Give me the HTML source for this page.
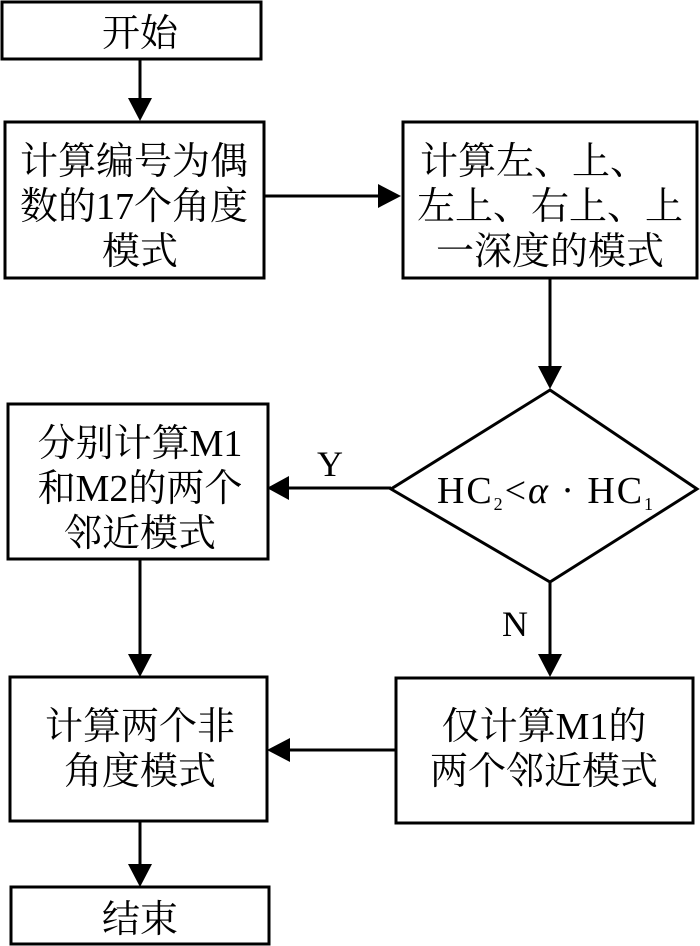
<!DOCTYPE html>
<html><head><meta charset="utf-8"><style>
html,body{margin:0;padding:0;background:#fff;}
svg{display:block;}
text{font-family:"Liberation Serif","Noto Serif CJK SC",serif;font-size:38px;fill:#000;}
</style></head><body>
<svg width="700" height="946" viewBox="0 0 700 946" xmlns="http://www.w3.org/2000/svg">
<g fill="none" stroke="#000" stroke-width="3">
<rect x="2" y="2" width="259" height="57"/>
<rect x="5" y="122" width="259" height="156"/>
<rect x="403" y="122" width="294" height="156"/>
<polygon points="550,390 697,489 550,582 391,489"/>
<rect x="8" y="404" width="260" height="155"/>
<rect x="10" y="677" width="257" height="144"/>
<rect x="396" y="678" width="297" height="145"/>
<rect x="11" y="887" width="258" height="57"/>
</g>
<g stroke="#000" stroke-width="3" fill="#000">
<line x1="140" y1="59" x2="140" y2="98"/><path d="M128,98 L152,98 L140,121z" stroke="none"/>
<line x1="264" y1="196" x2="378" y2="196"/><path d="M378,184 L378,208 L401,196z" stroke="none"/>
<line x1="550" y1="278" x2="550" y2="366"/><path d="M538,366 L562,366 L550,389z" stroke="none"/>
<line x1="391" y1="488" x2="289" y2="488"/><path d="M289,476 L289,500 L267,488z" stroke="none"/>
<line x1="550" y1="582" x2="550" y2="654"/><path d="M538,654 L562,654 L550,677z" stroke="none"/>
<line x1="140" y1="559" x2="140" y2="654"/><path d="M128,654 L152,654 L140,677z" stroke="none"/>
<line x1="396" y1="750" x2="290" y2="750"/><path d="M290,738 L290,762 L267,750z" stroke="none"/>
<line x1="140" y1="821" x2="140" y2="864"/><path d="M128,864 L152,864 L140,887z" stroke="none"/>
</g>
<g text-anchor="middle">
<text x="140" y="46">开始</text>
<text x="134" y="174">计算编号为偶</text>
<text x="134" y="219">数的17个角度</text>
<text x="140" y="264">模式</text>
<text x="534" y="174">计算左、上、</text>
<text x="550" y="219">左上、右上、上</text>
<text x="550" y="264">一深度的模式</text>
<text x="140" y="456">分别计算M1</text>
<text x="140" y="501">和M2的两个</text>
<text x="140" y="546">邻近模式</text>
<text x="140" y="739">计算两个非</text>
<text x="140" y="784">角度模式</text>
<text x="544" y="739">仅计算M1的</text>
<text x="544" y="784">两个邻近模式</text>
<text x="140" y="932">结束</text>
<text x="330" y="476" style="font-size:36px">Y</text>
<text x="515" y="636" style="font-size:36px">N</text>
</g>
<text x="437" y="503" style="font-size:38px" textLength="216">HC<tspan style="font-size:18px" dy="7">2</tspan><tspan dy="-7">&lt;</tspan><tspan font-style="italic">α</tspan><tspan> · HC</tspan><tspan style="font-size:18px" dy="7">1</tspan></text>
</svg>
</body></html>
